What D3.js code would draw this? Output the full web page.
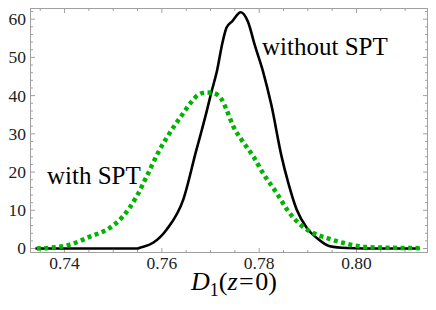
<!DOCTYPE html>
<html><head><meta charset="utf-8">
<script src="https://cdn.jsdelivr.net/npm/d3@7"></script>
<style>body{margin:0;background:#fff}svg{display:block}text{font-family:"Liberation Serif","Times New Roman",serif}</style>
</head><body>
<svg id="c" width="436" height="310"></svg>
<script>
const blackX = [0.734,0.745,0.755,0.7555,0.7582,0.7610,0.7644,0.7671,0.7680,0.7692,0.7701,0.7713,0.7725,0.7733,0.7745,0.7762,0.7777,0.7791,0.7808,0.7825,0.7846,0.7860,0.7877,0.7898,0.7918,0.7945,0.798,0.805,0.813];
const blackY = [0,0,0,0.2,1.5,5.0,12.8,25.8,30.0,35.8,40.5,46.3,54.1,57.8,59.5,61.8,59.3,53.2,46.3,37.6,24.1,17.1,10.2,5.4,2.8,0.6,0.15,0,0];
const greenX = [0.7343,0.7370,0.7411,0.7452,0.7493,0.7520,0.7548,0.7569,0.7592,0.7616,0.7644,0.7661,0.7675,0.7690,0.7705,0.7723,0.7733,0.7747,0.7764,0.7788,0.7808,0.7836,0.7860,0.7884,0.7904,0.7938,0.7972,0.802,0.809,0.813];
const greenY = [0,0.2,1.0,3.1,5.4,8.4,13.6,18.9,25.0,30.2,35.4,38.4,40.2,40.8,40.7,39.0,36.3,31.9,28.4,24.1,19.7,14.5,9.7,6.3,4.5,2.8,1.5,0.4,0.15,0.1];
const xTicks = [0.74,0.76,0.78,0.80];
const xTickLabels = ["0.74","0.76","0.78","0.80"];
const yTicks = [0,10,20,30,40,50,60];
const labelWith = "with SPT";
const labelWithout = "without SPT";

const svg = d3.select("#c");
const L=30.5, R=427.5, T=8.5, B=252.5;
const x = d3.scaleLinear().domain([0.7330,0.8146]).range([L,R]);
const y = d3.scaleLinear().domain([-1.04,62.79]).range([B,T]);

const frameCol="#a0a0a0";
const xMinor = d3.range(0.735,0.8146,0.005).map(v=>+v.toFixed(3));
const yMinor = d3.range(0,62.8,2);
const g = svg.append("g");
xMinor.forEach(v=>{
  const major = xTicks.some(t=>Math.abs(t-v)<1e-6);
  const len = major?4.5:2.5;
  g.append("line").attr("x1",x(v)).attr("x2",x(v)).attr("y1",B).attr("y2",B-len).attr("stroke",frameCol);
  g.append("line").attr("x1",x(v)).attr("x2",x(v)).attr("y1",T).attr("y2",T+len).attr("stroke",frameCol);
});
yMinor.forEach(v=>{
  const major = yTicks.includes(v);
  const len = major?4.5:2.5;
  g.append("line").attr("x1",L).attr("x2",L+len).attr("y1",y(v)).attr("y2",y(v)).attr("stroke",frameCol);
  g.append("line").attr("x1",R).attr("x2",R-len).attr("y1",y(v)).attr("y2",y(v)).attr("stroke",frameCol);
});
svg.append("rect").attr("x",L).attr("y",T).attr("width",R-L).attr("height",B-T).attr("fill","none").attr("stroke",frameCol);

xTicks.forEach((t,i)=>{
  svg.append("text").attr("x",x(t)).attr("y",269).attr("text-anchor","middle").attr("font-size",17.5).attr("fill","#222").text(xTickLabels[i]);
});
yTicks.forEach(t=>{
  svg.append("text").attr("x",26).attr("y",y(t)).attr("dy","0.34em").attr("text-anchor","end").attr("font-size",17.5).attr("fill","#222").text(t);
});

const line = d3.line().curve(d3.curveMonotoneX);
const bPts = blackX.map((v,i)=>[x(v),y(blackY[i])]);
const gPts = greenX.map((v,i)=>[x(v),y(greenY[i])]);
svg.append("path").attr("d",line(bPts)).attr("fill","none").attr("stroke","#000").attr("stroke-width",2.6).attr("stroke-linejoin","round");
svg.append("path").attr("d",line(gPts)).attr("fill","none").attr("stroke","#00b400").attr("stroke-width",4.5).attr("stroke-dasharray","4,3.5");

svg.append("text").attr("x",262).attr("y",55).attr("font-size",25).attr("fill","#000").text(labelWithout);
svg.append("text").attr("x",47).attr("y",184).attr("font-size",25).attr("fill","#000").text(labelWith);

const xl = svg.append("text").attr("x",234).attr("y",290).attr("text-anchor","middle").attr("font-size",26).attr("fill","#000");
xl.append("tspan").attr("font-style","italic").text("D");
xl.append("tspan").attr("font-size",18).attr("dy",6).text("1");
xl.append("tspan").attr("dy",-6).text("(");
xl.append("tspan").attr("font-style","italic").text("z");
xl.append("tspan").attr("dx",1.5).text("=");
xl.append("tspan").attr("dx",1.5).text("0)");
</script>
</body></html>
